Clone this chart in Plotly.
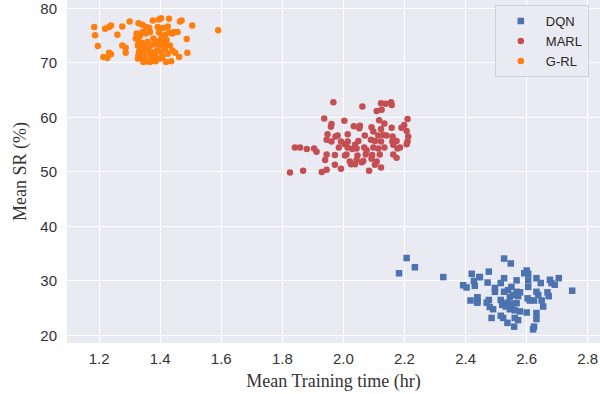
import plotly.graph_objects as go

# DQN (blue squares)
dqn_x = [2.207, 2.234, 2.182, 2.327, 2.42, 2.445, 2.427, 2.392, 2.403, 2.43, 2.416, 2.438, 2.438,
         2.526, 2.548, 2.476, 2.447, 2.6, 2.592, 2.605, 2.632, 2.676, 2.705, 2.526, 2.567, 2.605,
         2.472, 2.515, 2.646, 2.681, 2.692, 2.605, 2.55, 2.539, 2.496, 2.496, 2.526, 2.567, 2.578,
         2.632, 2.556, 2.572, 2.638, 2.668, 2.672, 2.749, 2.545, 2.439, 2.439, 2.476, 2.515, 2.603,
         2.61, 2.624, 2.649, 2.469, 2.537, 2.552, 2.567, 2.52, 2.531, 2.479, 2.49, 2.545, 2.561,
         2.578, 2.654, 2.6, 2.632, 2.515, 2.523, 2.485, 2.561, 2.572, 2.632, 2.537, 2.559, 2.624, 2.621]
dqn_y = [34.2, 32.5, 31.4, 30.7, 31.3, 30.7, 30.0, 29.2, 28.8, 29.1, 26.4, 26.9, 26.0,
         34.1, 33.2, 31.7, 30.7, 31.9, 31.4, 31.3, 30.5, 30.2, 30.5, 30.5, 30.1, 30.1,
         29.7, 29.6, 29.6, 29.6, 29.3, 28.9, 28.9, 28.3, 28.7, 28.0, 28.0, 28.0, 27.9,
         28.0, 27.4, 27.2, 27.4, 27.9, 27.2, 28.2, 27.0, 27.0, 26.2, 26.5, 26.5, 26.8,
         26.4, 26.4, 26.4, 26.0, 26.0, 25.8, 25.9, 25.6, 25.3, 25.2, 24.8, 24.8, 24.6,
         24.4, 25.3, 24.2, 24.1, 23.6, 23.2, 23.2, 23.2, 22.8, 23.0, 22.3, 21.6, 21.6, 21.1]

# MARL (red circles)
marl_x = [1.967, 2.062, 2.123, 2.138, 2.156, 2.158, 2.109, 2.125, 1.937, 2.003, 1.961, 1.959, 2.034,
          2.054, 2.052, 2.092, 2.117, 2.134, 2.158, 2.19, 2.199, 2.21, 2.207, 2.123, 2.098, 1.948,
          1.974, 1.981, 2.014, 2.07, 2.114, 2.13, 2.141, 2.161, 2.212, 1.945, 1.961, 1.992, 2.014,
          2.049, 2.09, 2.103, 2.123, 2.16, 2.174, 2.21, 2.207, 2.163, 2.005, 2.038, 1.841, 1.858,
          1.88, 1.904, 1.912, 1.985, 2.014, 2.029, 2.043, 2.068, 2.076, 2.098, 2.114, 2.134, 2.177,
          2.185, 1.945, 1.972, 2.005, 2.01, 2.046, 2.073, 2.094, 2.119, 2.163, 2.174, 1.94, 2.021,
          2.043, 2.065, 2.092, 2.109, 1.972, 2.025, 2.038, 2.06, 2.103, 2.123, 2.084, 1.992, 1.945,
          1.929, 1.868, 1.825]
marl_y = [62.8, 62.0, 62.6, 62.5, 62.8, 62.3, 61.2, 61.4, 59.8, 59.4, 58.8, 58.3, 58.4,
          58.5, 58.0, 58.2, 59.5, 58.9, 58.1, 58.1, 58.6, 59.7, 57.5, 57.9, 57.4, 56.9,
          56.5, 56.7, 56.9, 56.7, 56.7, 56.8, 56.7, 56.5, 56.5, 55.9, 55.6, 55.6, 55.6,
          55.7, 55.9, 55.7, 55.6, 55.6, 55.7, 55.6, 55.1, 55.0, 55.1, 55.0, 54.5, 54.5,
          54.2, 54.3, 53.7, 54.5, 54.5, 54.2, 54.3, 54.5, 54.0, 54.5, 54.3, 54.5, 54.3,
          54.5, 53.2, 53.1, 53.0, 53.2, 53.0, 53.2, 53.1, 53.2, 53.2, 52.6, 52.2, 51.9,
          52.2, 52.0, 52.4, 51.9, 51.3, 51.4, 51.4, 51.8, 51.3, 50.8, 50.2, 50.6, 50.4,
          50.0, 50.2, 49.9]

# G-RL (orange circles)
grl_x = [1.184, 1.187, 1.196, 1.214, 1.227, 1.22, 1.233, 1.239, 1.233, 1.239, 1.26, 1.276, 1.276,
         1.287, 1.287, 1.30, 1.329, 1.342, 1.354, 1.364, 1.323, 1.334, 1.32, 1.329, 1.34, 1.348,
         1.334, 1.345, 1.331, 1.34, 1.329, 1.342, 1.35, 1.356, 1.361, 1.37, 1.378, 1.356, 1.367,
         1.383, 1.353, 1.378, 1.383, 1.392, 1.40, 1.407, 1.416, 1.389, 1.403, 1.416, 1.425, 1.44,
         1.449, 1.376, 1.396, 1.403, 1.429, 1.392, 1.41, 1.425, 1.396, 1.416, 1.429, 1.44, 1.446,
         1.457, 1.465, 1.47, 1.505, 1.487, 1.489, 1.462, 1.436, 1.40, 1.407, 1.385, 1.59, 1.419,
         1.327, 1.345, 1.37, 1.327, 1.359, 1.37, 1.342, 1.367, 1.421, 1.432, 1.405]
grl_y = [76.6, 75.1, 73.1, 71.1, 70.9, 76.3, 76.6, 76.9, 71.9, 71.6, 75.2, 76.7, 73.2,
         72.8, 71.9, 77.6, 77.3, 77.0, 76.6, 76.4, 75.4, 75.0, 74.5, 74.0, 73.7, 73.3,
         72.9, 72.5, 72.1, 71.7, 71.4, 70.9, 71.4, 72.0, 72.6, 71.1, 70.7, 70.3, 70.2,
         71.4, 75.4, 74.5, 73.5, 74.0, 73.2, 73.9, 73.4, 72.3, 72.0, 72.5, 71.7, 72.3,
         71.9, 77.8, 78.0, 78.2, 78.1, 76.6, 76.4, 76.7, 75.6, 75.2, 75.6, 75.4, 75.7,
         75.7, 77.6, 77.8, 76.9, 74.4, 71.9, 71.1, 70.3, 70.8, 71.1, 70.3, 76.0, 70.2,
         70.8, 70.2, 72.0, 73.2, 73.9, 73.3, 75.7, 75.7, 74.2, 73.2, 74.8]

x_ticks = [1.2, 1.4, 1.6, 1.8, 2.0, 2.2, 2.4, 2.6, 2.8]
y_ticks = [20, 30, 40, 50, 60, 70, 80]

fig = go.Figure()
fig.add_trace(go.Scatter(x=dqn_x, y=dqn_y, mode="markers", name="DQN",
                         marker=dict(symbol="square", size=6.5, color="#4c72b0", line=dict(width=0))))
fig.add_trace(go.Scatter(x=marl_x, y=marl_y, mode="markers", name="MARL",
                         marker=dict(symbol="circle", size=6.5, color="#c44e52", line=dict(width=0))))
fig.add_trace(go.Scatter(x=grl_x, y=grl_y, mode="markers", name="G-RL",
                         marker=dict(symbol="circle", size=6.5, color="#ff7f0e", line=dict(width=0))))

fig.update_layout(
    width=600, height=394,
    margin=dict(l=67, r=0, t=0, b=51, autoexpand=False),
    paper_bgcolor="white",
    plot_bgcolor="#eaeaf2",
    font=dict(family="Liberation Sans, Arial", size=15, color="#333333"),
    legend=dict(x=0.979, y=0.985, xanchor="right", yanchor="top",
                bgcolor="rgba(234,234,242,0.9)", bordercolor="#cfcfd6", borderwidth=1,
                font=dict(size=13, color="#262626"), itemwidth=40, tracegroupgap=0),
    showlegend=True,
)
fig.update_xaxes(range=[1.095, 2.84], tickvals=x_ticks, ticktext=[f"{v:.1f}" for v in x_ticks],
                 showgrid=True, gridcolor="white", gridwidth=1.2, zeroline=False, showline=False,
                 ticks="", ticklabelstandoff=5, automargin=False, ticklabeloverflow="allow",
                 title=dict(text="Mean Training time (hr)", standoff=8,
                            font=dict(family="Liberation Serif, Times New Roman", size=18, color="#333333")))
fig.update_yaxes(range=[18.6, 81.56], tickvals=y_ticks,
                 showgrid=True, gridcolor="white", gridwidth=1.2, zeroline=False, showline=False,
                 ticks="", ticklabelstandoff=9, automargin=False, ticklabeloverflow="allow",
                 title=dict(text="Mean SR (%)", standoff=9,
                            font=dict(family="Liberation Serif, Times New Roman", size=18, color="#333333")))

fig.write_html("out.html", config={"displayModeBar": False},
               post_script="document.body.style.margin='0';")
